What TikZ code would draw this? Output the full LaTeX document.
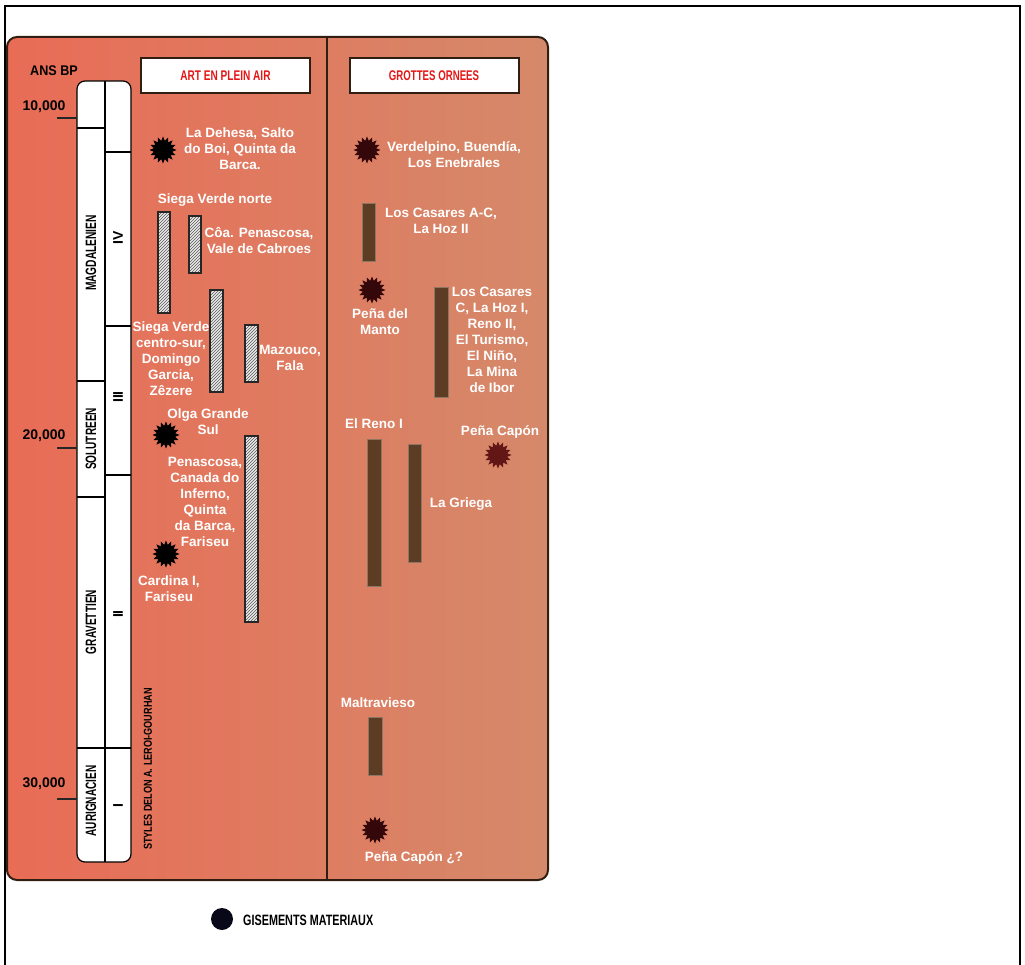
\documentclass[tikz,border=0pt]{standalone}
\usepackage{fontspec}
\setmainfont{Liberation Sans}
\usetikzlibrary{shapes.geometric,patterns}
\definecolor{bgL}{RGB}{233,108,86}
\definecolor{bgM}{RGB}{228,136,104}
\definecolor{bgR}{RGB}{213,137,106}
\definecolor{framebrown}{RGB}{48,30,18}
\definecolor{barbrown}{RGB}{92,60,34}
\definecolor{maroonA}{RGB}{52,8,10}
\definecolor{maroonB}{RGB}{98,22,22}
\definecolor{hdrred}{RGB}{228,22,22}
\definecolor{legendblk}{RGB}{8,8,24}
\newcommand{\cnd}[2][0.8]{\scalebox{#1}[1]{#2}}
\begin{document}
\begin{tikzpicture}[x=1pt,y=-1pt,
  lbl/.style={text=white, font=\bfseries\fontsize{13.5}{16}\selectfont, align=center, inner sep=0pt},
  blk/.style={text=black, font=\bfseries\fontsize{14}{16}\selectfont, inner sep=0pt},
  hdrbox/.style={draw=framebrown, line width=2pt, fill=white, minimum width=169pt, minimum height=35pt, inner sep=0pt,
     text=hdrred, font=\bfseries\fontsize{14}{16}\selectfont},
  vlab/.style={rotate=90, text=black, font=\bfseries\fontsize{15}{17}\selectfont, inner sep=0pt},
  roman/.style={rotate=90, text=black, font=\bfseries\fontsize{14}{16}\selectfont, inner sep=0pt},
  burst/.style={star, star points=16, star point ratio=1.45, inner sep=0pt, minimum size=27pt, fill=#1},
  burst/.default=black,
  hbar/.style={draw=black!85, line width=1.3pt, preaction={fill=white!92!black}, pattern=north east lines, pattern color=black!65, inner sep=0pt},
  bbar/.style={fill=barbrown, draw=barbrown!70!white, line width=0.4pt, inner sep=0pt},
  tick/.style={draw=black!85, line width=1.2pt},
  seg/.style={draw=black, line width=1.2pt}
]
\useasboundingbox (0,0) rectangle (1025,965);
% outer frame
\draw[line width=2pt] (4.5,965) -- (4.5,6) -- (1020,6) -- (1020,965);
% main panel
\shade[rounded corners=10pt, left color=bgL, middle color=bgM, right color=bgR] (7,37) rectangle (548,880);
\draw[framebrown, line width=2pt, rounded corners=10pt] (7,37) rectangle (548,880);
\draw[framebrown, line width=2pt] (327,37) -- (327,880);
% headers
\node[hdrbox] (hdrA) at (225.5,75.5) {\cnd[0.72]{ART EN PLEIN AIR}};
\node[hdrbox] (hdrB) at (434,75.5) {\cnd[0.69]{GROTTES ORNEES}};
\node[blk, font=\bfseries\fontsize{14}{16}\selectfont] (ansbp) at (54,71) {\cnd[0.9]{ANS BP}};
% timeline bar
\draw[seg, fill=white, rounded corners=8pt] (77,81) rectangle (131,862);
\draw[seg] (105,81) -- (105,862);
\draw[seg] (77,128) -- (105,128);
\draw[seg] (77,381) -- (105,381);
\draw[seg] (77,497) -- (105,497);
\draw[seg] (77,748) -- (131,748);
\draw[seg] (105,152) -- (131,152);
\draw[seg] (105,326) -- (131,326);
\draw[seg] (105,475) -- (131,475);
\node[vlab] (magd) at (91,253) {\cnd[0.68]{MAGDALENIEN}};
\node[vlab] (solu) at (91,439) {\cnd[0.67]{SOLUTREEN}};
\node[vlab] (grav) at (91,622) {\cnd[0.67]{GRAVETTIEN}};
\node[vlab] (auri) at (91,801) {\cnd[0.67]{AURIGNACIEN}};
\node[roman] (rIV) at (118,238) {IV};
\node[roman] (rIII) at (118,397) {III};
\node[roman] (rII) at (118,614) {II};
\node[roman] (rI) at (118,806) {I};
% ticks
\node[blk] (t10) at (44,107) {10,000};
\node[blk] (t20) at (44,436) {20,000};
\node[blk] (t30) at (44,784) {30,000};
\coordinate (k10) at (57,118);
\coordinate (k20) at (57,448);
\coordinate (k30) at (57,799);
\draw[tick] (k10) -- (77,118);
\draw[tick] (k20) -- (77,448);
\draw[tick] (k30) -- (77,799);
\node[rotate=90, text=black, font=\bfseries\fontsize{11.5}{13}\selectfont, inner sep=0pt] (styles) at (148,769) {\cnd[0.79]{STYLES DELON A. LEROI-GOURHAN}};
% left panel: hatched bars
\node[hbar, minimum width=12pt, minimum height=101pt] (h1) at (164,262.5) {};
\node[hbar, minimum width=12pt, minimum height=57pt] (h2) at (195,244.5) {};
\node[hbar, minimum width=13pt, minimum height=102pt] (h3) at (216.5,341) {};
\node[hbar, minimum width=13pt, minimum height=57pt] (h4) at (251.5,353.5) {};
\node[hbar, minimum width=13pt, minimum height=186pt] (h5) at (251.5,529) {};
% left panel: stars
\node[burst] (s1) at (163,150) {};
\node[burst] (s2) at (166,435) {};
\node[burst] (s3) at (166,554) {};
% left panel: labels
\node[lbl] (lDeh) at (240,149) {La Dehesa, Salto\\do Boi, Quinta da\\Barca.};
\node[lbl] (lSiegaN) at (215,200) {Siega Verde norte};
\node[lbl] (lCoa) at (259,241) {Côa. Penascosa,\\Vale de Cabroes};
\node[lbl] (lSiegaC) at (171,359) {Siega Verde\\centro-sur,\\Domingo\\Garcia,\\Zêzere};
\node[lbl] (lMaz) at (290,358) {Mazouco,\\Fala};
\node[lbl] (lOlga) at (208,422) {Olga Grande\\Sul};
\node[lbl] (lPen) at (205,502) {Penascosa,\\Canada do\\Inferno,\\Quinta\\da Barca,\\Fariseu};
\node[lbl] (lCard) at (169,589) {Cardina I,\\Fariseu};
% right panel: bars
\node[bbar, minimum width=13pt, minimum height=58pt] (b1) at (368.5,232) {};
\node[bbar, minimum width=14pt, minimum height=110pt] (b2) at (441,342) {};
\node[bbar, minimum width=14pt, minimum height=147pt] (b3) at (374,512.5) {};
\node[bbar, minimum width=13pt, minimum height=118pt] (b4) at (414.5,503) {};
\node[bbar, minimum width=14pt, minimum height=58pt] (b5) at (375,746) {};
% right panel: stars
\node[burst=maroonA] (s4) at (367,150) {};
\node[burst=maroonA] (s5) at (372,290) {};
\node[burst=maroonB] (s6) at (498,455) {};
\node[burst=maroonA] (s7) at (375,830) {};
% right panel: labels
\node[lbl] (rVerd) at (454,155) {Verdelpino, Buendía,\\Los Enebrales};
\node[lbl] (rCasAC) at (441,221) {Los Casares A-C,\\La Hoz II};
\node[lbl] (rPenaM) at (380,322) {Peña del\\Manto};
\node[lbl] (rCasC) at (492,340) {Los Casares\\C, La Hoz I,\\Reno II,\\El Turismo,\\El Niño,\\La Mina\\de Ibor};
\node[lbl] (rReno) at (374,424) {El Reno I};
\node[lbl] (rCapon) at (500,432) {Peña Capón};
\node[lbl] (rGriega) at (461,504) {La Griega};
\node[lbl] (rMalt) at (378,703) {Maltravieso};
\node[lbl] (rCapon2) at (414,858) {Peña Capón ¿?};
% legend
\node[circle, fill=legendblk, minimum size=22pt, inner sep=0pt] (legdot) at (222,919) {};
\node[blk, anchor=west, font=\bfseries\fontsize{15}{17}\selectfont] (legtxt) at (243,920) {\cnd[0.72]{GISEMENTS MATERIAUX}};
\end{tikzpicture}
\end{document}
